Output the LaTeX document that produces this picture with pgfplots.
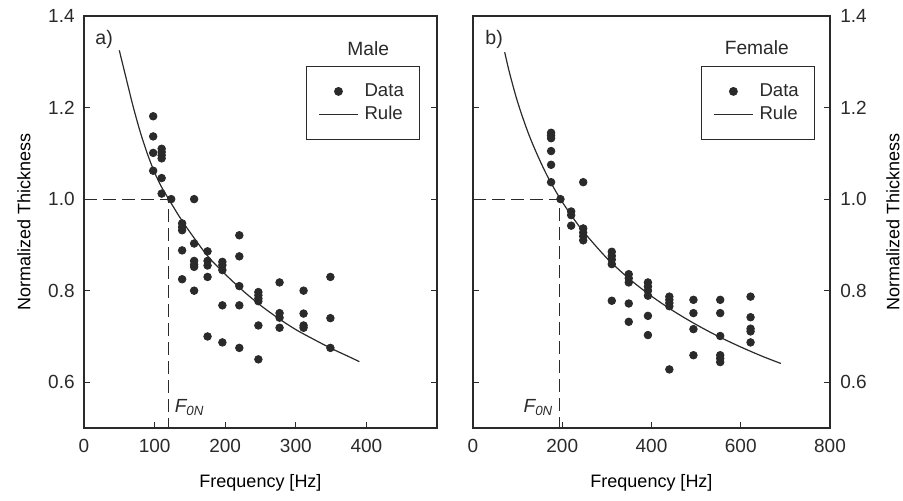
\documentclass[border=0pt]{standalone}
\usepackage{fontspec}
\setmainfont{Liberation Sans}
\usepackage{pgfplots}
\pgfplotsset{compat=1.18}
\definecolor{ink}{HTML}{2A2A2A}
\begin{document}
\fontsize{9}{11}\selectfont
\begin{tikzpicture}
\useasboundingbox (0,0) rectangle (451.5pt,250pt);
\pgfplotsset{
  panel/.style={
    scale only axis, height=206pt, ymin=0.5, ymax=1.4,
    ytick={0.6,0.8,1.0,1.2,1.4},
    yticklabel style={/pgf/number format/fixed, /pgf/number format/fixed zerofill, /pgf/number format/precision=1},
    /pgf/number format/assume math mode=true,
    tick align=inside, xtick pos=left, ytick pos=both,
    major tick length=3pt,
    axis line style={ink, line width=0.75pt},
    tick style={ink, line width=0.6pt},
    ticklabel style={text=ink, font=\fontsize{9.5}{11}\selectfont},
    xticklabel style={yshift=-2.5pt},
    label style={text=ink, font=\fontsize{10.3}{12}\selectfont},
    every axis x label/.style={at={(axis description cs:0.5,0)}, anchor=center, yshift=-27.5pt},
    legend style={draw=ink, line width=0.6pt, fill=white, inner xsep=5.8pt, inner ysep=6.6pt,
      row sep=-0.5pt, column sep=1pt, font=\fontsize{9.3}{11}\selectfont, text=ink,
      nodes={inner sep=2pt}, anchor=north east},
    legend cell align=left,
    legend image code/.code={\draw[mark repeat=2,mark phase=2,#1] plot coordinates {(0pt,0pt) (9.75pt,0pt) (19.5pt,0pt)};},
    datastyle/.style={only marks, mark=*, mark size=1.9pt, draw=ink, fill=ink},
    rulestyle/.style={no marks, ink, line width=0.6pt, smooth},
    dashstyle/.style={no marks, ink, line width=0.5pt, dash pattern=on 6.5pt off 3pt, forget plot},
  }
}
% ---------------- left panel: Male
\begin{axis}[panel, at={(42pt,36pt)}, anchor=south west, width=176.5pt,
  xmin=0, xmax=500, xtick={0,100,200,300,400},
  yticklabel pos=left, yticklabel style={xshift=-1.5pt},
  xlabel={Frequency [Hz]}, ylabel={Normalized Thickness},
  every axis y label/.style={at={(axis description cs:-0.170,0.5)}, anchor=center, rotate=90},
  legend style={at={(rel axis cs:0.952,0.879)}}]
\addplot[dashstyle] coordinates {(0,1.0) (120,1.0) (120,0.5)};
\addplot[datastyle] coordinates {
(98,1.181)(98,1.137)(98,1.101)(98,1.062)
(110,1.110)(110,1.103)(110,1.096)(110,1.089)(110,1.046)(110,1.012)
(123.5,1.0)
(139,0.947)(139,0.939)(139,0.932)(139,0.888)(139,0.825)
(156,1.0)(156,0.903)(156,0.865)(156,0.857)(156,0.852)(156,0.800)
(175,0.886)(175,0.865)(175,0.855)(175,0.830)(175,0.700)
(196,0.863)(196,0.856)(196,0.845)(196,0.768)(196,0.687)
(220,0.921)(220,0.875)(220,0.810)(220,0.768)(220,0.675)
(247,0.797)(247,0.790)(247,0.783)(247,0.777)(247,0.724)(247,0.650)
(277,0.818)(277,0.751)(277,0.741)(277,0.719)
(311,0.800)(311,0.750)(311,0.724)(311,0.719)
(349,0.830)(349,0.740)(349,0.675)};
\addlegendentry{Data}
\addplot[rulestyle] coordinates {
(50,1.325)(60,1.262)(70,1.200)(80,1.145)(90,1.098)(100,1.058)(110,1.026)(120,1.0)
(135,0.962)(150,0.928)(175,0.876)(200,0.836)(225,0.800)(250,0.768)(275,0.740)
(300,0.715)(325,0.694)(350,0.674)(375,0.656)(390,0.645)};
\addlegendentry{Rule}
\node[text=ink, font=\fontsize{9.8}{11}\selectfont] at (rel axis cs:0.057,0.944) {a)};
\node[text=ink, font=\fontsize{9.6}{11}\selectfont] at (rel axis cs:0.805,0.922) {Male};
\node[text=ink, anchor=south west, inner sep=0pt, font=\fontsize{9.5}{11}\selectfont] at (rel axis cs:0.256,0.03) {\itshape F\textsubscript{0N}};
\end{axis}
% ---------------- right panel: Female
\begin{axis}[panel, at={(236.5pt,36pt)}, anchor=south west, width=178.5pt,
  xmin=0, xmax=800, xtick={0,200,400,600,800},
  yticklabel pos=right, yticklabel style={xshift=2pt},
  xlabel={Frequency [Hz]}, ylabel={Normalized Thickness},
  every axis y label/.style={at={(axis description cs:1.1765,0.5)}, anchor=center, rotate=90},
  legend style={at={(rel axis cs:0.958,0.879)}}]
\addplot[dashstyle] coordinates {(0,1.0) (193,1.0) (193,0.5)};
\addplot[datastyle] coordinates {
(175,1.145)(175,1.139)(175,1.133)(175,1.105)(175,1.075)(175,1.037)
(196,1.0)
(220,0.973)(220,0.965)(220,0.942)
(247,1.037)(247,0.936)(247,0.927)(247,0.919)(247,0.910)
(311,0.885)(311,0.876)(311,0.868)(311,0.858)(311,0.778)
(349,0.836)(349,0.827)(349,0.818)(349,0.772)(349,0.732)
(392,0.818)(392,0.809)(392,0.800)(392,0.789)(392,0.745)(392,0.703)
(440,0.787)(440,0.780)(440,0.773)(440,0.766)(440,0.628)
(494,0.780)(494,0.751)(494,0.716)(494,0.659)
(554,0.780)(554,0.751)(554,0.701)(554,0.659)(554,0.652)(554,0.644)
(622,0.787)(622,0.742)(622,0.717)(622,0.711)(622,0.687)};
\addlegendentry{Data}
\addplot[rulestyle] coordinates {
(71,1.321)(80,1.283)(90,1.246)(100,1.212)(115,1.168)(130,1.129)(150,1.084)(170,1.044)
(196,1.0)(225,0.958)(250,0.926)(300,0.871)(350,0.826)(400,0.788)(450,0.755)
(500,0.726)(550,0.700)(600,0.677)(650,0.656)(690,0.641)};
\addlegendentry{Rule}
\node[text=ink, font=\fontsize{9.8}{11}\selectfont] at (rel axis cs:0.059,0.944) {b)};
\node[text=ink, font=\fontsize{9.6}{11}\selectfont] at (rel axis cs:0.795,0.924) {Female};
\node[text=ink, anchor=south east, inner sep=0pt, font=\fontsize{9.5}{11}\selectfont] at (rel axis cs:0.226,0.03) {\itshape F\textsubscript{0N}};
\end{axis}
\end{tikzpicture}
\end{document}
